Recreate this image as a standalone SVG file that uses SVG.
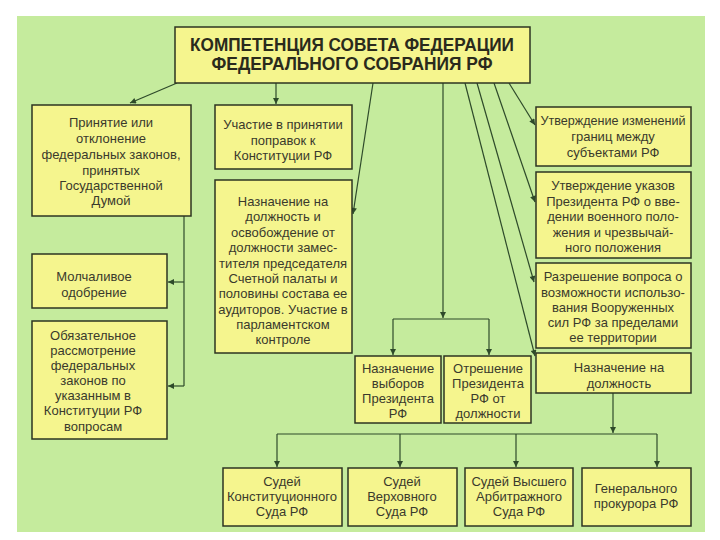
<svg xmlns="http://www.w3.org/2000/svg" width="720" height="540" viewBox="0 0 720 540">
<defs>
<marker id="arr" viewBox="0 0 10 10" refX="10" refY="5" markerWidth="9" markerHeight="6" markerUnits="userSpaceOnUse" orient="auto">
<path d="M0,0 L10,5 L0,10 z" fill="#2e4a2a"/>
</marker>
<style>
.box{fill:#f5f58e;stroke:#2c3422;stroke-width:1.5}
.t{font-family:"Liberation Sans",Arial,sans-serif;font-size:13px;fill:#3a3a2c;text-anchor:middle}
.title{font-family:"Liberation Sans",Arial,sans-serif;font-size:19px;font-weight:bold;fill:#2a2a1c;text-anchor:middle}
.c{fill:none;stroke:#2e4a2a;stroke-width:1.2}
.ca{fill:none;stroke:#2e4a2a;stroke-width:1.2;marker-end:url(#arr)}
</style>
</defs>
<rect x="0" y="0" width="720" height="540" fill="#ffffff"/>
<rect x="17" y="16" width="688" height="516" fill="#c5eb9d"/>

<g id="connectors">
<line class="ca" x1="177" y1="83" x2="130" y2="103"/>
<line class="ca" x1="276" y1="83" x2="276" y2="104"/>
<line class="ca" x1="373" y1="83" x2="353" y2="214"/>
<line class="ca" x1="443" y1="83" x2="443" y2="318"/>
<path class="c" d="M393,319 H489"/>
<line class="ca" x1="393" y1="319" x2="393" y2="355"/>
<line class="ca" x1="489" y1="319" x2="489" y2="355"/>
<line class="ca" x1="509" y1="83" x2="535" y2="125"/>
<line class="ca" x1="494" y1="83" x2="535" y2="202"/>
<line class="ca" x1="477" y1="83" x2="534" y2="282"/>
<line class="ca" x1="465" y1="83" x2="535" y2="356"/>
<path class="c" d="M184,216 V386"/>
<line class="ca" x1="184" y1="282" x2="168" y2="282"/>
<line class="ca" x1="184" y1="386" x2="168" y2="386"/>
<line class="ca" x1="613" y1="393" x2="613" y2="433"/>
<path class="c" d="M277,434 H657"/>
<line class="ca" x1="277" y1="434" x2="277" y2="467"/>
<line class="ca" x1="400" y1="434" x2="400" y2="467"/>
<line class="ca" x1="516" y1="434" x2="516" y2="467"/>
<line class="ca" x1="657" y1="434" x2="657" y2="467"/>
</g>

<g id="title">
<rect class="box" x="175" y="27" width="355" height="56"/>
<text class="title" x="352" y="51" textLength="324" lengthAdjust="spacingAndGlyphs">КОМПЕТЕНЦИЯ СОВЕТА ФЕДЕРАЦИИ</text>
<text class="title" x="352" y="70" textLength="281" lengthAdjust="spacingAndGlyphs">ФЕДЕРАЛЬНОГО СОБРАНИЯ РФ</text>
</g>

<g id="n-prinyatie">
<rect class="box" x="32" y="105" width="159" height="111"/>
<text class="t" x="111" y="127">Принятие или</text>
<text class="t" x="111" y="143">отклонение</text>
<text class="t" x="111" y="159">федеральных законов,</text>
<text class="t" x="111" y="175">принятых</text>
<text class="t" x="111" y="190">Государственной</text>
<text class="t" x="111" y="205">Думой</text>
</g>

<g id="n-molchalivoe">
<rect class="box" x="32" y="254" width="135" height="54"/>
<text class="t" x="94" y="281">Молчаливое</text>
<text class="t" x="94" y="297">одобрение</text>
</g>

<g id="n-obyazatelnoe">
<rect class="box" x="32" y="321" width="135" height="118"/>
<text class="t" x="93" y="340">Обязательное</text>
<text class="t" x="93" y="355">рассмотрение</text>
<text class="t" x="93" y="370">федеральных</text>
<text class="t" x="93" y="385">законов по</text>
<text class="t" x="93" y="400">указанным в</text>
<text class="t" x="93" y="415">Конституции РФ</text>
<text class="t" x="93" y="431">вопросам</text>
</g>

<g id="n-popravki">
<rect class="box" x="215" y="105" width="137" height="64"/>
<text class="t" x="283" y="129">Участие в принятии</text>
<text class="t" x="283" y="145">поправок к</text>
<text class="t" x="283" y="160">Конституции РФ</text>
</g>

<g id="n-naznachenie-schetnaya">
<rect class="box" x="215" y="180" width="137" height="173"/>
<text class="t" x="283" y="206">Назначение на</text>
<text class="t" x="283" y="221">должность и</text>
<text class="t" x="283" y="237">освобождение от</text>
<text class="t" x="283" y="252">должности замес-</text>
<text class="t" x="283" y="268">тителя председателя</text>
<text class="t" x="283" y="283">Счетной палаты и</text>
<text class="t" x="283" y="298">половины состава ее</text>
<text class="t" x="283" y="314">аудиторов. Участие в</text>
<text class="t" x="283" y="329">парламентском</text>
<text class="t" x="283" y="344">контроле</text>
</g>

<g id="n-granitsy">
<rect class="box" x="536" y="107" width="155" height="59"/>
<text class="t" x="613" y="125" textLength="145" lengthAdjust="spacingAndGlyphs">Утверждение изменений</text>
<text class="t" x="613" y="141">границ между</text>
<text class="t" x="613" y="157">субъектами РФ</text>
</g>

<g id="n-ukazy">
<rect class="box" x="536" y="172" width="155" height="86"/>
<text class="t" x="613" y="190">Утверждение указов</text>
<text class="t" x="613" y="206">Президента РФ о вве-</text>
<text class="t" x="613" y="221">дении военного поло-</text>
<text class="t" x="613" y="237">жения и чрезвычай-</text>
<text class="t" x="613" y="252">ного положения</text>
</g>

<g id="n-vooruzhennye">
<rect class="box" x="536" y="263" width="155" height="85"/>
<text class="t" x="613" y="281">Разрешение вопроса о</text>
<text class="t" x="613" y="297" textLength="144" lengthAdjust="spacingAndGlyphs">возможности использо-</text>
<text class="t" x="613" y="312">вания Вооруженных</text>
<text class="t" x="613" y="327">сил РФ за пределами</text>
<text class="t" x="613" y="342">ее территории</text>
</g>

<g id="n-naznachenie-dolzhnost">
<rect class="box" x="536" y="353" width="155" height="40"/>
<text class="t" x="619" y="372">Назначение на</text>
<text class="t" x="619" y="388">должность</text>
</g>

<g id="n-vybory">
<rect class="box" x="355" y="356" width="86" height="67"/>
<text class="t" x="398" y="373">Назначение</text>
<text class="t" x="398" y="388">выборов</text>
<text class="t" x="398" y="403">Президента</text>
<text class="t" x="398" y="418">РФ</text>
</g>

<g id="n-otreshenie">
<rect class="box" x="444" y="356" width="87" height="67"/>
<text class="t" x="488" y="373">Отрешение</text>
<text class="t" x="488" y="388">Президента</text>
<text class="t" x="488" y="403">РФ от</text>
<text class="t" x="488" y="418">должности</text>
</g>

<g id="n-konstitutsionny">
<rect class="box" x="223" y="468" width="119" height="58"/>
<text class="t" x="282" y="486">Судей</text>
<text class="t" x="282" y="501" textLength="110" lengthAdjust="spacingAndGlyphs">Конституционного</text>
<text class="t" x="282" y="516">Суда РФ</text>
</g>

<g id="n-verkhovny">
<rect class="box" x="348" y="468" width="109" height="58"/>
<text class="t" x="402" y="486">Судей</text>
<text class="t" x="402" y="501">Верховного</text>
<text class="t" x="402" y="516">Суда РФ</text>
</g>

<g id="n-arbitrazhny">
<rect class="box" x="465" y="468" width="108" height="58"/>
<text class="t" x="519" y="486">Судей Высшего</text>
<text class="t" x="519" y="501">Арбитражного</text>
<text class="t" x="519" y="516">Суда РФ</text>
</g>

<g id="n-prokuror">
<rect class="box" x="582" y="468" width="109" height="58"/>
<text class="t" x="636" y="493">Генерального</text>
<text class="t" x="636" y="508">прокурора РФ</text>
</g>
</svg>
